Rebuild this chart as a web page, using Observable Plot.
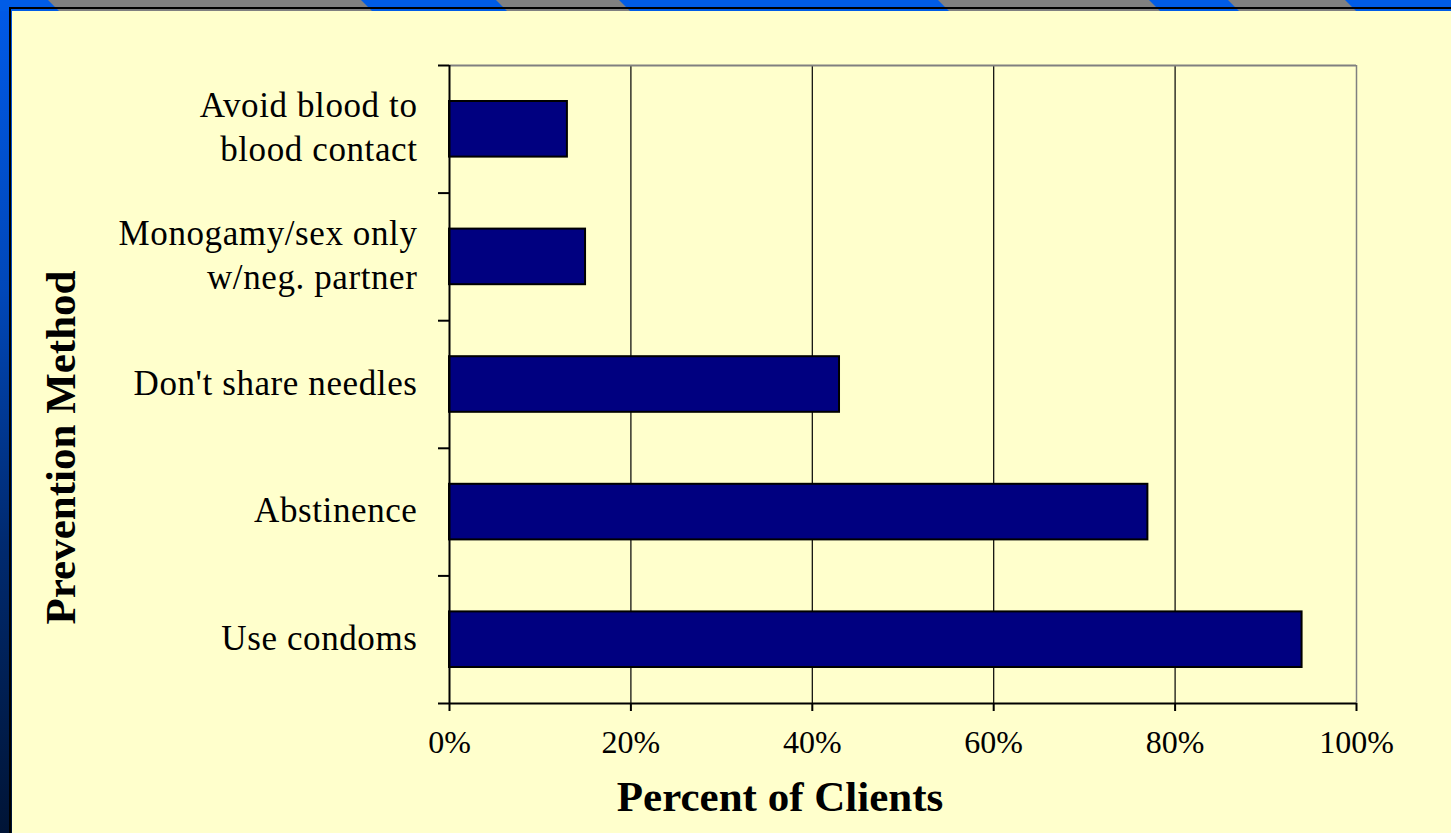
<!DOCTYPE html>
<html>
<head>
<meta charset="utf-8">
<script src="https://cdn.jsdelivr.net/npm/d3@7"></script>
<script src="https://cdn.jsdelivr.net/npm/@observablehq/plot@0.6"></script>
<style>
  html, body { margin: 0; padding: 0; width: 1451px; height: 833px; overflow: hidden; background: #ffffcc; }
  #page { position: relative; width: 1451px; height: 833px; }
  #leftbar { position: absolute; left: 0; top: 0; width: 12px; height: 833px;
    background: linear-gradient(to bottom, #005ae8 0%, #0047b8 35%, #002a70 65%, #001436 100%); }
  #topbar { position: absolute; left: 0; top: 0; width: 1451px; height: 11px; overflow: hidden; background: #005ce6; }
  .stripe { position: absolute; top: 0; height: 11px; background: #808080; transform-origin: 0 0; transform: skewX(45deg); }
  #blackh { position: absolute; left: 9px; top: 7px; width: 1442px; height: 2px; background: #000; }
  #blackv { position: absolute; left: 9px; top: 7px; width: 2px; height: 826px; background: #000; }
  #yellow { position: absolute; left: 12px; top: 11px; width: 1439px; height: 822px; background: #ffffcc; }
  #chart { position: absolute; left: 0; top: 0; }
</style>
</head>
<body>
<div id="page">
  <div id="yellow"></div>
  <div id="leftbar"></div>
  <div id="topbar">
    <div class="stripe" style="left:48px;width:313px"></div>
    <div class="stripe" style="left:496px;width:123px"></div>
    <div class="stripe" style="left:938px;width:211px"></div>
    <div class="stripe" style="left:1228px;width:117px"></div>
  </div>
  <div id="blackh"></div>
  <div id="blackv"></div>
  <div id="chart"></div>
</div>
<script>
const categories = [
  "Avoid blood to\nblood contact",
  "Monogamy/sex only\nw/neg. partner",
  "Don't share needles",
  "Abstinence",
  "Use condoms"
];
const values = [13, 15, 43, 77, 94];
const xTicks = [0, 20, 40, 60, 80, 100];
const xTitle = "Percent of Clients";
const yTitle = "Prevention Method";

const data = categories.map((c, i) => ({category: c, value: values[i], i}));
const bounds = d3.range(categories.length + 1);
const centers = categories.map((c, i) => i + 0.5);

const chart = Plot.plot({
  width: 1451,
  height: 833,
  marginLeft: 449,
  marginRight: 95,
  marginTop: 65,
  marginBottom: 130,
  style: {fontFamily: "'Liberation Serif', 'Times New Roman', serif", fontSize: "32px", background: "transparent", color: "black", overflow: "visible"},
  x: {domain: [0, 100]},
  y: {domain: [0, categories.length], reverse: true},
  marks: [
    Plot.gridX(xTicks.slice(1, -1), {stroke: "black", strokeOpacity: 1, strokeWidth: 1.2}),
    Plot.rectX(data, {x1: 0, x2: "value", y1: "i", y2: d => d.i + 1, insetTop: 36, insetBottom: 36,
      fill: "#000080", stroke: "black", strokeWidth: 2}),
    Plot.ruleY([0], {stroke: "#808080", strokeWidth: 2}),
    Plot.ruleX([100], {stroke: "#808080", strokeWidth: 1.5}),
    Plot.ruleX([0], {stroke: "black", strokeWidth: 2}),
    Plot.ruleY([categories.length], {stroke: "black", strokeWidth: 2}),
    Plot.axisY({ticks: bounds, tickSize: 11, strokeWidth: 2, tickFormat: () => "", label: null}),
    Plot.axisY({ticks: centers, tickSize: 0, tickPadding: 32, dy: -4, tickFormat: v => categories[Math.round(v - 0.5)],
      fontSize: 35, lineHeight: 1.257, label: null}),
    Plot.axisX({ticks: xTicks, tickSize: 8, tickPadding: 19, strokeWidth: 2, tickFormat: d => d + "%", label: null}),
    Plot.text([xTitle], {frameAnchor: "bottom", lineAnchor: "bottom", textAnchor: "middle", dx: -123, dy: 107,
      fontSize: 43, fontWeight: "bold"}),
    Plot.text([yTitle], {frameAnchor: "left", rotate: -90, lineAnchor: "middle", textAnchor: "middle", dx: -388, dy: 63,
      fontSize: 43, fontWeight: "bold"})
  ]
});
document.getElementById("chart").appendChild(chart);
chart.querySelectorAll('g[aria-label="y-axis tick label"] text').forEach(t => t.style.letterSpacing = "0.6px");
</script>
</body>
</html>
